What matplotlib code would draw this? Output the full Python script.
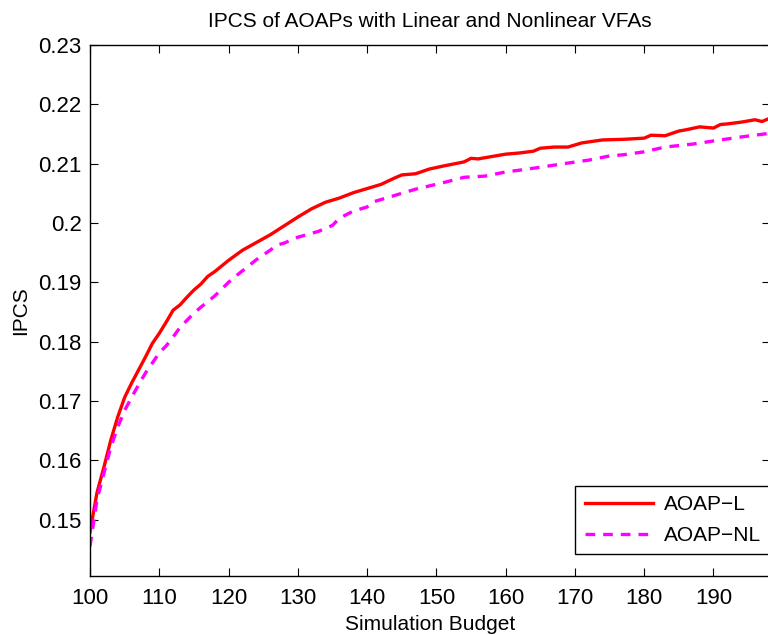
import numpy as np
import matplotlib
matplotlib.use('Agg')
import matplotlib.pyplot as plt
from matplotlib.ticker import FuncFormatter

plt.rcParams['font.family'] = ['Liberation Sans', 'DejaVu Sans']

# AOAP-L (solid red)
x_l = [100, 101, 102, 103, 104, 105, 106, 107, 108, 109, 110, 111, 112, 113, 114, 115,
       116, 117, 118, 120, 122, 124, 126, 128, 130, 132, 134, 136, 138, 140, 142, 144,
       145, 147, 149, 151, 154, 155, 156, 158, 160, 162, 164, 165, 167, 169, 171, 174,
       177, 180, 181, 183, 185, 186, 188, 190, 191, 192, 194, 196, 197, 198]
y_l = [0.1479, 0.1545, 0.1588, 0.1634, 0.1673, 0.1706, 0.1730, 0.1752, 0.1774, 0.1797,
       0.1814, 0.1833, 0.1853, 0.1862, 0.1875, 0.1887, 0.1897, 0.1910, 0.1918, 0.1937,
       0.1954, 0.1967, 0.1980, 0.1995, 0.2010, 0.2024, 0.2035, 0.2042, 0.2051, 0.2058,
       0.2065, 0.2076, 0.2081, 0.2083, 0.2091, 0.2096, 0.2103, 0.2109, 0.2108, 0.2112,
       0.2116, 0.2118, 0.2121, 0.2126, 0.2128, 0.2128, 0.2135, 0.2140, 0.2141, 0.2143,
       0.2148, 0.2147, 0.2155, 0.2157, 0.2162, 0.2160, 0.2166, 0.2167, 0.2170, 0.2174,
       0.2171, 0.2176]

# AOAP-NL (dashed magenta)
x_nl = [100, 101, 102, 103, 104, 105, 106, 107, 108, 109, 110, 111, 112, 113, 114, 115,
        116, 118, 120, 121, 124, 126, 127, 128, 130, 133, 135, 136, 138, 140, 141, 143,
        147, 151, 154, 157, 160, 162, 165, 169, 172, 175, 177, 180, 183, 187, 191, 194, 198]
y_nl = [0.1455, 0.1533, 0.1578, 0.1622, 0.1656, 0.1684, 0.1706, 0.1727, 0.1747, 0.1764,
        0.1781, 0.1793, 0.1808, 0.1824, 0.1836, 0.1848, 0.1858, 0.1877, 0.1900, 0.1910,
        0.1938, 0.1954, 0.1963, 0.1966, 0.1976, 0.1986, 0.1996, 0.2008, 0.2020, 0.2027,
        0.2036, 0.2043, 0.2057, 0.2068, 0.2077, 0.2079, 0.2086, 0.2089, 0.2094, 0.2101,
        0.2106, 0.2113, 0.2115, 0.2120, 0.2128, 0.2133, 0.2140, 0.2145, 0.2151]

fig = plt.figure(figsize=(7.68, 6.35), dpi=100)
ax = fig.add_axes([90/768., 1-576/635., 1.003-90/768., (576-45)/635.])

ax.plot(x_l, y_l, '-', color='red', lw=2.4, label='AOAP\u2212L')
ax.plot(x_nl, y_nl, '--', color='magenta', lw=2.4, dashes=(2.9, 2.4), label='AOAP\u2212NL')

ax.set_xlim(100, 198.2)
ax.set_ylim(0.1405, 0.23)
ax.set_xticks(np.arange(100, 191, 10))
ax.set_yticks(np.arange(0.15, 0.2301, 0.01))
ax.yaxis.set_major_formatter(FuncFormatter(lambda v, p: '%g' % round(v, 2)))
ax.tick_params(direction='in', length=6, width=0.8, top=True, right=True, labelsize=16)
ax.tick_params(axis='x', pad=9)
ax.tick_params(axis='y', pad=6)
for s in ax.spines.values():
	s.set_linewidth(1.0)

ax.set_title('IPCS of AOAPs with Linear and Nonlinear VFAs', fontsize=15, pad=13)
ax.set_xlabel('Simulation Budget', fontsize=15, labelpad=4)
ax.set_ylabel('IPCS', fontsize=15, labelpad=6)

leg = ax.legend(loc='lower right', bbox_to_anchor=(1.0, 0.041), fontsize=15,
                handlelength=3.3, handletextpad=0.5, fancybox=False, framealpha=1,
                edgecolor='black', borderpad=0.45, labelspacing=0.55, borderaxespad=0.0)
leg.get_frame().set_linewidth(1.0)

fig.savefig('out.png', dpi=100)
